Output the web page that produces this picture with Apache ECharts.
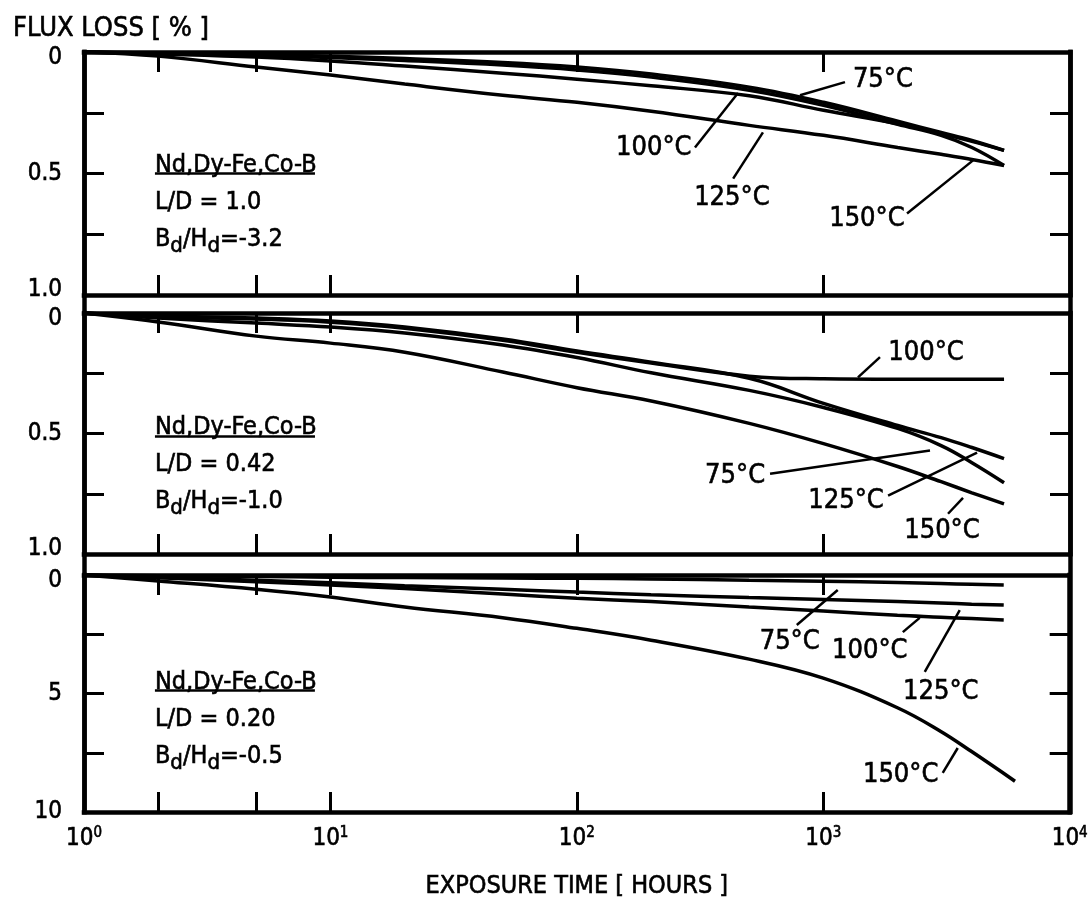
<!DOCTYPE html>
<html>
<head>
<meta charset="utf-8">
<script src="https://cdn.jsdelivr.net/npm/echarts@6/dist/echarts.min.js"></script>
<style>
html,body{margin:0;padding:0;background:#fff;}
#chart{width:1091px;height:909px;}
</style>
</head>
<body>
<div id="chart"></div>
<script>
// ---------------- DATA ----------------
const hours    = [1, 2, 5, 10, 20, 50, 100, 200, 500, 1000, 2000, 3000, 4000, 5400];
const hours150 = [1, 2, 5, 10, 20, 50, 100, 200, 500, 1000, 2000, 3000, 4000, 6000];
const temps = ['75°C', '100°C', '125°C', '150°C'];

// Panel 1: L/D = 1.0, Bd/Hd = -3.2  (flux loss %)
const p1_75  = [0, 0.004, 0.010, 0.017, 0.027, 0.043, 0.062, 0.091, 0.145, 0.207, 0.285, 0.331, 0.364, 0.405];
const p1_100 = [0, 0.008, 0.021, 0.037, 0.058, 0.087, 0.112, 0.139, 0.180, 0.240, 0.295, 0.336, 0.368, 0.405];
const p1_125 = [0, 0.017, 0.062, 0.095, 0.132, 0.178, 0.207, 0.244, 0.302, 0.343, 0.393, 0.421, 0.442, 0.467];
const p1_150 = [0, 0.006, 0.014, 0.023, 0.035, 0.054, 0.074, 0.103, 0.157, 0.219, 0.298, 0.343, 0.393, 0.467];

// Panel 2: L/D = 0.42, Bd/Hd = -1.0
const p2_75  = [0, 0.012, 0.021, 0.033, 0.058, 0.108, 0.158, 0.204, 0.271, 0.375, 0.467, 0.517, 0.558, 0.604];
const p2_100 = [0, 0.015, 0.025, 0.038, 0.063, 0.113, 0.163, 0.208, 0.262, 0.273, 0.275, 0.275, 0.275, 0.275];
const p2_125 = [0, 0.021, 0.042, 0.058, 0.083, 0.133, 0.185, 0.248, 0.321, 0.392, 0.479, 0.550, 0.621, 0.704];
const p2_150 = [0, 0.037, 0.096, 0.125, 0.163, 0.245, 0.310, 0.365, 0.458, 0.542, 0.637, 0.700, 0.746, 0.792];

// Panel 3: L/D = 0.20, Bd/Hd = -0.5
const p3_75  = [0, 0.03, 0.06, 0.09, 0.11, 0.13, 0.14, 0.17, 0.22, 0.26, 0.32, 0.36, 0.39, 0.42];
const p3_100 = [0, 0.10, 0.22, 0.33, 0.45, 0.60, 0.72, 0.83, 0.95, 1.03, 1.12, 1.18, 1.23, 1.27];
const p3_125 = [0, 0.12, 0.28, 0.42, 0.57, 0.80, 0.98, 1.12, 1.35, 1.52, 1.70, 1.78, 1.84, 1.90];
const p3_150 = [0, 0.25, 0.60, 0.93, 1.35, 1.80, 2.25, 2.75, 3.55, 4.35, 5.60, 6.60, 7.45, 8.70];

// Panel texts
const material = 'Nd,Dy-Fe,Co-B';
const ldValues = ['1.0', '0.42', '0.20'];
const bhValues = ['-3.2', '-1.0', '-0.5'];

// Axis ticks / labels
const xTickValues  = [2, 5, 10, 100, 1000];
const xLabelValues = [1, 10, 100, 1000, 10000];
const yMax       = [1, 1, 10];
const yInterval  = [0.25, 0.25, 2.5];
const yLabelText = [{0:'0', 0.5:'0.5', 1:'1.0'}, {0:'0', 0.5:'0.5', 1:'1.0'}, {0:'0', 5:'5', 10:'10'}];

// Temperature label anchors [hours, loss] for 75,100,125,150
const labPos = [
  [[1742, 0.116], [205, 0.397], [425, 0.599], [1500, 0.686]],
  [[438, 0.675], [2606, 0.167], [1234, 0.779], [3025, 0.904]],
  [[731, 2.83], [1545, 3.21], [2998, 4.94], [2062, 8.44]]
];
// Leader lines [from, to] for 75,100,125,150
const leaders = [
  [[[1222, 0.124], [803, 0.178]], [[301, 0.393], [450, 0.169]], [[430, 0.521], [568, 0.331]], [[2182, 0.665], [4043, 0.446]]],
  [[[607, 0.667], [2704, 0.571]], [[1380, 0.267], [1695, 0.183]], [[1828, 0.758], [4198, 0.579]], [[3200, 0.833], [3681, 0.767]]],
  [[[781, 2.11], [1145, 0.63]], [[2103, 2.41], [2462, 1.81]], [[2582, 4.09], [3580, 1.48]], [[3054, 8.35], [3513, 7.30]]]
];
// Text-block anchor [hours, loss] and underline
const blockPos   = [[1.94, 0.39], [1.94, 0.397], [1.94, 3.75]];
const underlineY = [0.50, 0.512, 4.85];
const underlineX = [1.94, 8.65];

// ---------------- CHART ----------------
const FONT = "'Liberation Sans Narrow','Arial Narrow','DejaVu Sans Condensed',sans-serif";
const INK = {color: '#000', textBorderColor: '#000', textBorderWidth: 0.6, fontFamily: FONT};
const panelSeries = [
  [p1_75, p1_100, p1_125, p1_150],
  [p2_75, p2_100, p2_125, p2_150],
  [p3_75, p3_100, p3_125, p3_150]
];
const gridTops = [52, 313, 575];
const gridHeights = [243, 241, 237];
const L = 84, R = 21;
const frame = {color: '#000', width: 4.5, cap: 'square'};

const grids = [], xAxes = [], yAxes = [], series = [];
for (let i = 0; i < 3; i++) {
  grids.push({left: L, right: R, top: gridTops[i], height: gridHeights[i], containLabel: false});
  const baseX = {
    type: 'log', logBase: 10, min: 1, max: 10000, gridIndex: i,
    axisLine: {show: true, onZero: false, lineStyle: frame},
    axisTick: {show: true, inside: true, length: 20, customValues: xTickValues, lineStyle: {color: '#000', width: 3}},
    splitLine: {show: false}, minorTick: {show: false}
  };
  xAxes.push(Object.assign({}, baseX, {
    position: 'bottom',
    axisLabel: i === 2 ? {
      show: true, customValues: xLabelValues, margin: 14,
      formatter: v => '{b|10}{p|' + Math.round(Math.log10(v)) + '}',
      rich: {
        b: Object.assign({fontSize: 24, verticalAlign: 'middle'}, INK),
        p: Object.assign({fontSize: 15, padding: [0, 0, 10, 0], verticalAlign: 'middle'}, INK)
      }
    } : {show: false},
    name: i === 2 ? 'EXPOSURE TIME [ HOURS ]' : '',
    nameLocation: 'middle', nameGap: 62,
    nameTextStyle: Object.assign({fontSize: 25}, INK)
  }));
  xAxes.push(Object.assign({}, baseX, {position: 'top', axisLabel: {show: false}}));
  const baseY = {
    type: 'value', inverse: true, min: 0, max: yMax[i], interval: yInterval[i], gridIndex: i,
    axisLine: {show: true, onZero: false, lineStyle: frame},
    axisTick: {show: true, inside: true, length: 20, lineStyle: {color: '#000', width: 3}},
    splitLine: {show: false}
  };
  const txt = yLabelText[i];
  const isLast = i === 2;
  yAxes.push(Object.assign({}, baseY, {
    position: 'left',
    axisLabel: Object.assign({show: true, margin: 22, fontSize: 24,
      formatter: v => {
        if (txt[v] === undefined) return '';
        if (v === 0) return '{dn|' + txt[v] + '}';
        if (v === yMax[i] && !isLast) return '{up|' + txt[v] + '}';
        return txt[v];
      },
      rich: {
        dn: Object.assign({fontSize: 24, padding: [12, 0, 0, 0], verticalAlign: 'middle'}, INK),
        up: Object.assign({fontSize: 24, padding: [0, 0, 10, 0], verticalAlign: 'middle'}, INK)
      }
    }, INK)
  }));
  yAxes.push(Object.assign({}, baseY, {position: 'right', axisLabel: {show: false}}));

  const xi = 2 * i, yi = 2 * i;
  panelSeries[i].forEach((vals, k) => {
    const hs = (i === 2 && k === 3) ? hours150 : hours;
    series.push({
      type: 'line', name: temps[k], xAxisIndex: xi, yAxisIndex: yi,
      data: hs.map((h, j) => [h, vals[j]]),
      symbol: 'none', smooth: 0.4, clip: false,
      lineStyle: {color: '#000', width: 3.5}, silent: true
    });
  });
  series.push({
    type: 'lines', coordinateSystem: 'cartesian2d', xAxisIndex: xi, yAxisIndex: yi,
    data: leaders[i].map(c => ({coords: c})).concat([{coords: [[underlineX[0], underlineY[i]], [underlineX[1], underlineY[i]]]}]),
    lineStyle: {color: '#000', width: 2.5, opacity: 1, curveness: 0}, silent: true, symbol: 'none'
  });
  series.push({
    type: 'scatter', xAxisIndex: xi, yAxisIndex: yi, symbolSize: 1,
    itemStyle: {color: 'rgba(0,0,0,0)', opacity: 1}, silent: true,
    label: Object.assign({show: true, position: 'inside', formatter: '{b}', fontSize: 27}, INK),
    data: labPos[i].map((p, k) => ({name: temps[k], value: p}))
  });
  series.push({
    type: 'scatter', xAxisIndex: xi, yAxisIndex: yi, symbolSize: 1,
    itemStyle: {color: 'rgba(0,0,0,0)', opacity: 1}, silent: true,
    label: {
      show: true, position: 'inside', align: 'left', verticalAlign: 'top',
      formatter: '{n|' + material + '}\n{n|L/D = ' + ldValues[i] + '}\n{n|B}{s|d}{n|/H}{s|d}{n|=' + bhValues[i] + '}',
      rich: {
        n: Object.assign({fontSize: 25, lineHeight: 37, verticalAlign: 'middle'}, INK),
        s: Object.assign({fontSize: 22, lineHeight: 20, padding: [14, 0, 0, 0], verticalAlign: 'middle'}, INK)
      }
    },
    data: [{name: 'block', value: blockPos[i]}]
  });
}
// outer frame grid for continuous vertical borders
grids.push({left: L, right: R, top: 52, bottom: 909 - 812});
xAxes.push({type: 'value', gridIndex: 3, show: false, min: 0, max: 1});
const outerY = {type: 'value', gridIndex: 3, min: 0, max: 1,
  axisLine: {show: true, lineStyle: frame}, axisTick: {show: false}, axisLabel: {show: false}, splitLine: {show: false}};
yAxes.push(Object.assign({}, outerY, {position: 'left'}));
yAxes.push(Object.assign({}, outerY, {position: 'right'}));

const chart = echarts.init(document.getElementById('chart'), null, {renderer: 'canvas'});
chart.setOption({
  backgroundColor: '#fff',
  animation: false,
  title: {text: 'FLUX LOSS [ % ]', left: 8, top: 10,
    textStyle: Object.assign({fontSize: 27, fontWeight: 'normal'}, INK)},
  grid: grids, xAxis: xAxes, yAxis: yAxes, series: series
});
</script>
</body>
</html>
